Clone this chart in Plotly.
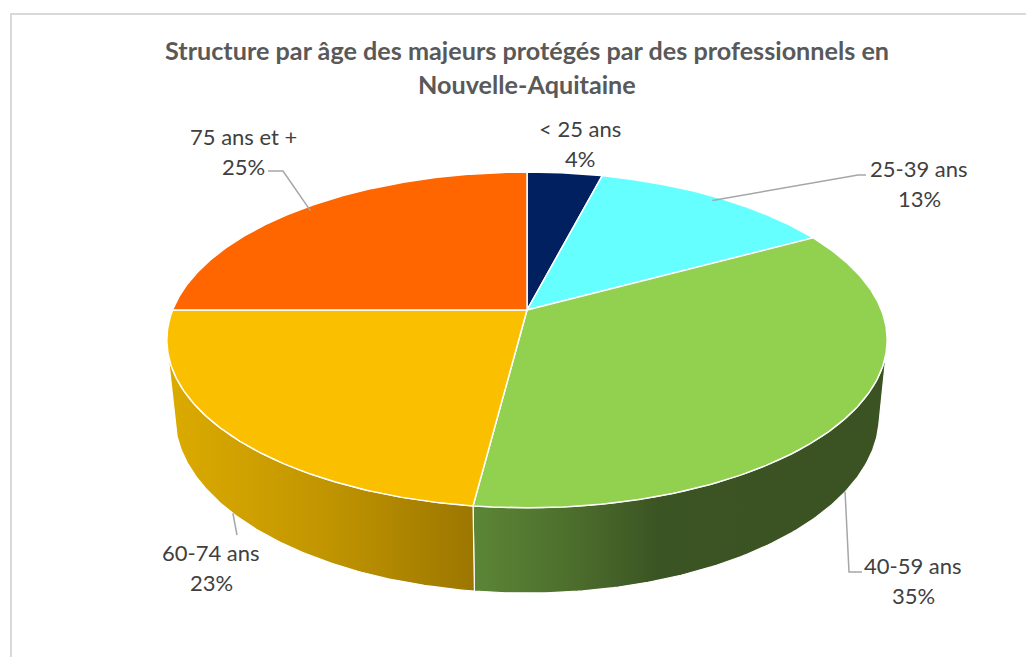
import numpy as np
import plotly.graph_objects as go

# ---- data ----
categories = ["< 25 ans", "25-39 ans", "40-59 ans", "60-74 ans", "75 ans et +"]
shares = [4, 13, 35, 23, 25]
top_colors = ["#002060", "#66FFFF", "#92D050", "#FAC000", "#FF6600"]
side_scales = [
    [[0, "#001540"], [1, "#000c30"]],
    [[0, "#3fbcbc"], [1, "#2d9a9a"]],
    [[0, "#5b8636"], [0.22, "#4e702d"], [0.45, "#3b5423"], [1, "#3b5323"]],
    [[0, "#dcab00"], [0.5, "#c29600"], [1, "#9c7600"]],
    [[0, "#c04d00"], [1, "#a04000"]],
]
title_lines = ["Structure par âge des majeurs protégés par des professionnels en",
               "Nouvelle-Aquitaine"]

# ---- layout constants (pixels) ----
W, H = 1026, 657
CX, CY = 527, 310          # projected pie centre
ELEV = np.radians(27.0)    # camera elevation
DIST = 5.0                 # camera distance (in pie radii)
SCALE = 1790               # projection scale
SX = 0.99                  # horizontal squeeze
THICK = 0.239              # pie thickness (in pie radii)

# label centres (name line; percentage sits one line below) and leader elbows
label_layout = {
    "< 25 ans":    dict(pos=(580, 128), leader=[]),
    "25-39 ans":   dict(pos=(919, 168), leader=[(858, 175), (866, 175)]),
    "40-59 ans":   dict(pos=(913, 565), leader=[(849, 572), (862, 572)]),
    "60-74 ans":   dict(pos=(211, 552), leader=[(237, 535)]),
    "75 ans et +": dict(pos=(243, 136), leader=[(283, 171), (268, 171)]),
}
LINE_GAP = 30
LABEL_FONT = dict(family="Lato, Open Sans, sans-serif", size=22, color="#404040")
TITLE_FONT = dict(family="Lato, Open Sans, sans-serif", size=25.2, color="#595959")

ce, se = np.cos(ELEV), np.sin(ELEV)


def project(r, theta, z):
    """Perspective projection of a point of the pie (theta clockwise from the far side)."""
    px = r * np.sin(theta)
    py = r * np.cos(theta)
    vy = py + DIST * ce
    vz = z - DIST * se
    depth = vy * ce - vz * se
    up = vy * se + vz * ce
    return CX + SX * SCALE * px / depth, CY - SCALE * up / depth


fig = go.Figure()

total = float(sum(shares))
bounds = np.concatenate([[0], np.cumsum(shares)]) / total * 2 * np.pi
vis_lo = np.arccos(-1.0 / (DIST * ce))
vis_hi = 2 * np.pi - vis_lo

# side walls (front half only)
for i in range(len(shares)):
    a0, a1 = max(bounds[i], vis_lo), min(bounds[i + 1], vis_hi)
    if a1 <= a0:
        continue
    th = np.linspace(a0, a1, 120)
    xt, yt = project(1.0, th, 0.0)
    xb, yb = project(1.0, th[::-1], -THICK)
    xs = np.concatenate([xt, xb, xt[:1]])
    ys = np.concatenate([yt, yb, yt[:1]])
    fig.add_trace(go.Scatter(
        x=xs, y=ys, mode="lines", fill="toself",
        fillgradient=dict(type="horizontal", colorscale=side_scales[i]),
        line=dict(color="white", width=1.2), hoverinfo="skip", showlegend=False))

# top faces
for i in range(len(shares)):
    th = np.linspace(bounds[i], bounds[i + 1], 200)
    xr, yr = project(1.0, th, 0.0)
    x0, y0 = project(0.0, 0.0, 0.0)
    xs = np.concatenate([[x0], xr, [x0]])
    ys = np.concatenate([[y0], yr, [y0]])
    fig.add_trace(go.Scatter(
        x=xs, y=ys, mode="lines", fill="toself", fillcolor=top_colors[i],
        line=dict(color="white", width=1.5), hoverinfo="skip", showlegend=False))

# leader lines and labels
for i, cat in enumerate(categories):
    spec = label_layout[cat]
    mid = 0.5 * (bounds[i] + bounds[i + 1])
    if spec["leader"]:
        if vis_lo < mid < vis_hi:
            ax, ay = project(1.0, mid, -THICK)
        else:
            ax, ay = project(0.97, mid, 0.0)
        xs = [ax] + [p[0] for p in spec["leader"]]
        ys = [ay] + [p[1] for p in spec["leader"]]
        fig.add_trace(go.Scatter(
            x=xs, y=ys, mode="lines", line=dict(color="#a6a6a6", width=1.5),
            hoverinfo="skip", showlegend=False))
    lx, ly = spec["pos"]
    fig.add_annotation(x=lx, y=ly, text=cat, showarrow=False, font=LABEL_FONT,
                       xanchor="center", yanchor="middle")
    fig.add_annotation(x=lx, y=ly + LINE_GAP, text=f"{shares[i]:g}%", showarrow=False,
                       font=LABEL_FONT, xanchor="center", yanchor="middle")

# title
for k, line in enumerate(title_lines):
    fig.add_annotation(x=CX, y=50 + 34 * k, text=f"<b>{line}</b>", showarrow=False,
                       font=TITLE_FONT, xanchor="center", yanchor="middle")

# chart area frame
fig.add_shape(type="rect", xref="x", yref="y", x0=11, y0=14, x1=W + 10, y1=H + 10,
              line=dict(color="#d9d9d9", width=2), layer="below")

fig.update_layout(
    width=W, height=H, margin=dict(l=0, r=0, t=0, b=0),
    paper_bgcolor="white", plot_bgcolor="white",
    xaxis=dict(range=[0, W], visible=False, fixedrange=True),
    yaxis=dict(range=[H, 0], visible=False, fixedrange=True),
    showlegend=False,
)

fig.write_html("out.html", config={"displayModeBar": False})
